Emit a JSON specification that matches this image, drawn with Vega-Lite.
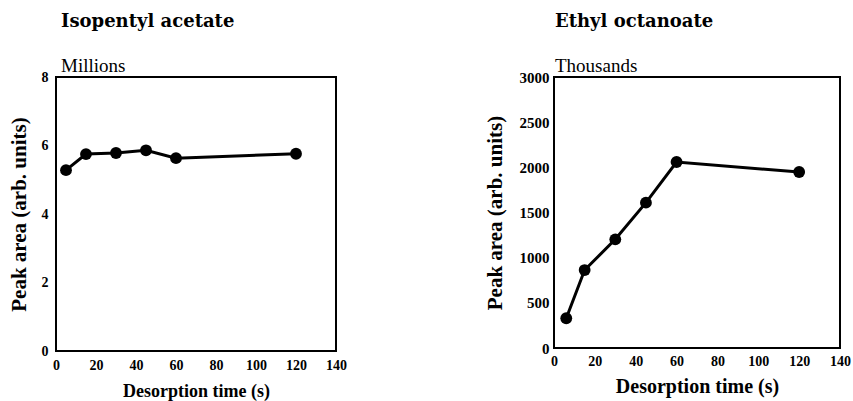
{
  "$schema": "https://vega.github.io/schema/vega-lite/v6.json",
  "padding": {"left": 7, "top": 12, "right": 5, "bottom": 5},
  "background": "white",
  "config": {
    "view": {"stroke": "black", "strokeWidth": 2},
    "font": "Liberation Serif",
    "axis": {
      "domain": false, "ticks": false, "grid": false,
      "labelFont": "Liberation Serif", "labelFontWeight": "bold", "labelFontSize": 14, "labelColor": "black",
      "labelFlush": false, "labelOverlap": false, "format": "d",
      "titleFont": "Liberation Serif", "titleFontWeight": "bold", "titleFontSize": 18, "titleColor": "black"
    },
    "axisY": {"titleFontSize": 21},
    "title": {
      "font": "DejaVu Serif", "fontWeight": "bold", "fontSize": 18, "anchor": "start", "frame": "group", "color": "black",
      "subtitleFont": "Liberation Serif", "subtitleFontSize": 19, "subtitleFontWeight": "normal", "subtitleColor": "black",
      "subtitlePadding": 26, "offset": -6
    }
  },
  "spacing": 135,
  "hconcat": [
    {
      "title": {"text": "Isopentyl acetate", "subtitle": "Millions", "dx": 5},
      "width": 280,
      "height": 274,
      "data": {"values": [
        {"t": 5, "a": 5.28},
        {"t": 15, "a": 5.75},
        {"t": 30, "a": 5.78},
        {"t": 45, "a": 5.86},
        {"t": 60, "a": 5.63},
        {"t": 120, "a": 5.76}
      ]},
      "encoding": {
        "x": {"field": "t", "type": "quantitative", "scale": {"domain": [0, 140], "nice": false},
          "axis": {"values": [0, 20, 40, 60, 80, 100, 120, 140], "title": "Desorption time (s)", "labelPadding": 7, "titlePadding": 10}},
        "y": {"field": "a", "type": "quantitative", "scale": {"domain": [0, 8], "nice": false},
          "axis": {"values": [0, 2, 4, 6, 8], "title": "Peak area (arb. units)", "labelPadding": 8, "titlePadding": 12}}
      },
      "layer": [
        {"mark": {"type": "line", "color": "black", "strokeWidth": 3}},
        {"mark": {"type": "point", "filled": true, "color": "black", "size": 140, "opacity": 1}}
      ]
    },
    {
      "title": {"text": "Ethyl octanoate", "subtitle": "Thousands", "dx": 1},
      "width": 286,
      "height": 271,
      "data": {"values": [
        {"t": 6, "a": 329},
        {"t": 15, "a": 863},
        {"t": 30, "a": 1203},
        {"t": 45, "a": 1609},
        {"t": 60, "a": 2059},
        {"t": 120, "a": 1948}
      ]},
      "encoding": {
        "x": {"field": "t", "type": "quantitative", "scale": {"domain": [0, 140], "nice": false},
          "axis": {"values": [0, 20, 40, 60, 80, 100, 120, 140], "title": "Desorption time (s)", "titleFontSize": 20, "labelPadding": 6, "titlePadding": 8}},
        "y": {"field": "a", "type": "quantitative", "scale": {"domain": [0, 3000], "nice": false},
          "axis": {"values": [0, 500, 1000, 1500, 2000, 2500, 3000], "title": "Peak area (arb. units)", "labelFontSize": 15, "labelPadding": 5, "titlePadding": 14}}
      },
      "layer": [
        {"mark": {"type": "line", "color": "black", "strokeWidth": 3}},
        {"mark": {"type": "point", "filled": true, "color": "black", "size": 140, "opacity": 1}}
      ]
    }
  ]
}
